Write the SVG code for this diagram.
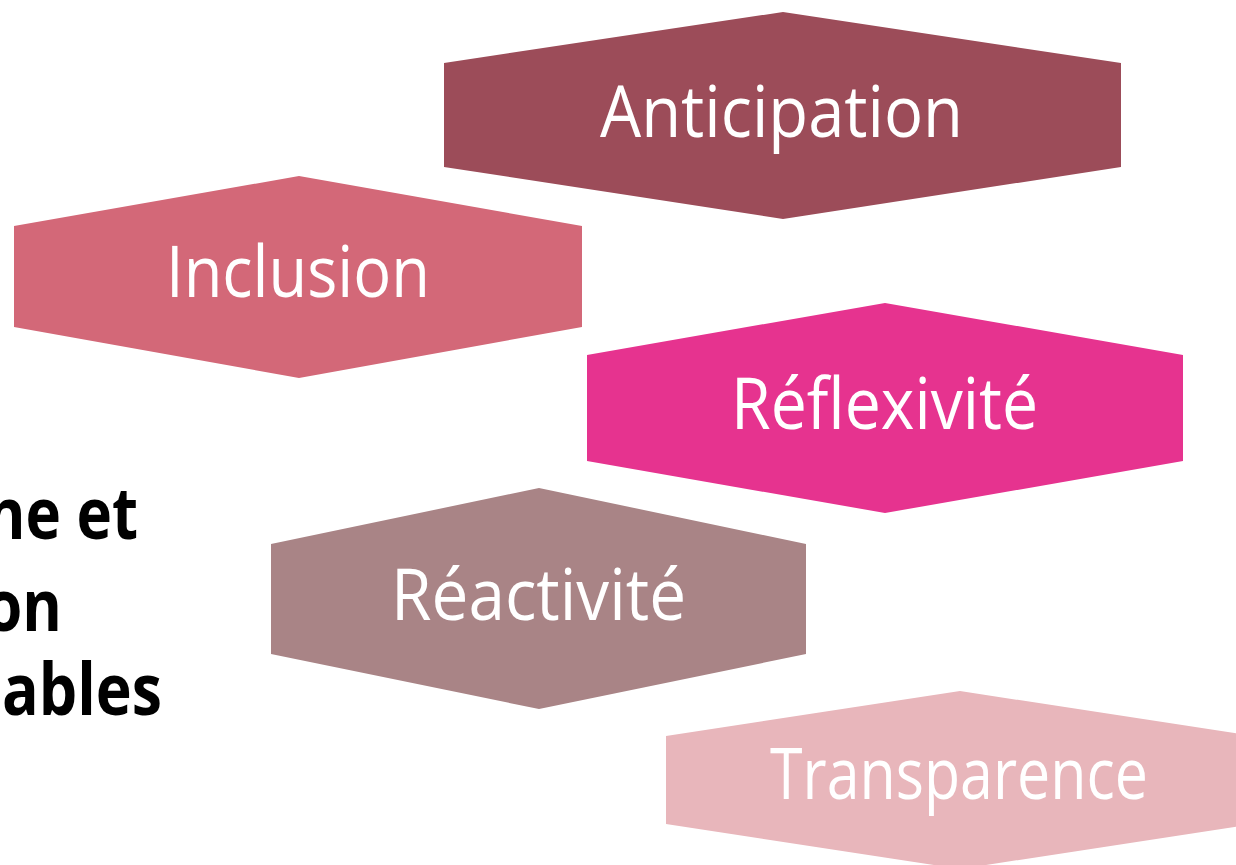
<svg xmlns="http://www.w3.org/2000/svg" width="1236" height="865" viewBox="0 0 1236 865">
<style>
.lbl{font-family:"Open Sans","Liberation Sans",sans-serif;font-size:72px;fill:#FFFFFF;}
.side{font-family:"Open Sans","Liberation Sans",sans-serif;font-size:72px;font-weight:bold;fill:#000000;}
</style>
<rect x="0" y="0" width="1236" height="865" fill="#FFFFFF"/>
<g id="side-text">
<text class="side" x="-14" y="539" textLength="152" lengthAdjust="spacingAndGlyphs">ne et</text>
<text class="side" x="-15" y="631" textLength="77" lengthAdjust="spacingAndGlyphs">on</text>
<text class="side" x="2" y="715" textLength="160" lengthAdjust="spacingAndGlyphs">ables</text>
</g>
<g id="connectors"></g>
<g id="node-anticipation">
<polygon points="783,12 1121,63 1121,167 783,219 444,167 444,63" fill="#9C4C59"/>
<text class="lbl" x="600" y="137" textLength="363" lengthAdjust="spacingAndGlyphs">Anticipation</text>
</g>
<g id="node-inclusion">
<polygon points="299,176 582,226 582,327 299,378 14,327 14,226" fill="#D36878"/>
<text class="lbl" x="166" y="297" textLength="264" lengthAdjust="spacingAndGlyphs">Inclusion</text>
</g>
<g id="node-reflexivite">
<polygon points="885,303 1183,355 1183,461 885,513 587,461 587,355" fill="#E6338F"/>
<text class="lbl" x="731" y="429" textLength="307" lengthAdjust="spacingAndGlyphs">Réflexivité</text>
</g>
<g id="node-reactivite">
<polygon points="539,488 806,544 806,654 539,709 271,654 271,544" fill="#A98486"/>
<text class="lbl" x="391" y="620" textLength="295" lengthAdjust="spacingAndGlyphs">Réactivité</text>
</g>
<g id="node-transparence">
<polygon points="960,691 1254,736 1254,824 960,869 666,824 666,736" fill="#E8B6BB"/>
<text class="lbl" x="770" y="799" textLength="378" lengthAdjust="spacingAndGlyphs">Transparence</text>
</g>
</svg>
